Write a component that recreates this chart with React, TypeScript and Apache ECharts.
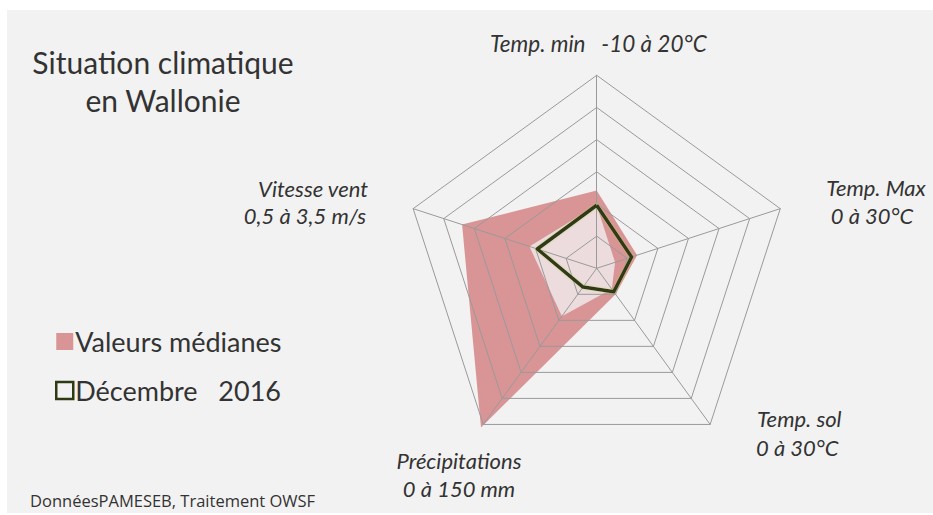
import React, { useEffect, useRef } from "react";
import * as echarts from "echarts";

// Axes (counter-clockwise from the top, as ECharts places them)
const axisNames = ["Temp. min", "Vitesse vent", "Précipitations", "Temp. sol", "Temp. Max"];
const axisMin = [-10, 0.5, 0, 0, 0];
const axisMax = [20, 3.5, 150, 30, 30];

// Labels shown around the radar
const labelTempMin = "Temp. min   -10 à 20°C";
const labelTempMax = ["Temp. Max", "0 à 30°C"];
const labelTempSol = ["Temp. sol", "0 à 30°C"];
const labelPrecip = ["Précipitations", "0 à 150 mm"];
const labelVent = ["Vitesse vent", "0,5 à 3,5 m/s"];

// Series values (order: Temp. min, Vitesse vent, Précipitations, Temp. sol, Temp. Max)
const medianOuter = [2.1, 2.7, 153, 5.0, 6.6];
const medianInner = [-0.2, 1.6, 46, 4.0, 3.0];
const december2016 = [-0.2, 1.47, 18, 4.5, 5.7];

const seriesNames = ["Valeurs médianes", "Décembre   2016"];
const titleText = "Situation climatique\nen Wallonie";
const sourceText = "DonnéesPAMESEB, Traitement OWSF";

const FONT = "Lato, 'Open Sans', sans-serif";

export default function App() {
  const ref = useRef<HTMLDivElement>(null);
  useEffect(() => {
    if (!ref.current) return;
    const chart = echarts.init(ref.current, undefined, { renderer: "svg" });
    const labelStyle = {
      fill: "#333",
      fontFamily: FONT,
      fontStyle: "italic",
      fontSize: 22,
      verticalAlign: "middle",
    };
    chart.setOption({
      animation: false,
      backgroundColor: "#ffffff",
      title: [
        {
          text: titleText,
          left: 158,
          top: 38,
          textAlign: "center",
          textStyle: { fontFamily: FONT, fontSize: 30, fontWeight: "normal", color: "#333", lineHeight: 38 },
        },
        {
          text: sourceText,
          left: 25,
          top: 487,
          textStyle: { fontFamily: "'Open Sans', sans-serif", fontSize: 16.5, fontWeight: "normal", color: "#333" },
        },
      ],
      legend: {
        orient: "vertical",
        left: 50,
        top: 323,
        itemWidth: 17,
        itemHeight: 17,
        itemGap: 22,
        textStyle: { fontFamily: FONT, fontSize: 27, color: "#333", padding: [0, 0, 0, -3] },
        data: [
          { name: seriesNames[0], icon: "rect", itemStyle: { color: "#d99496" } },
          {
            name: seriesNames[1],
            icon: "rect",
            itemStyle: { color: "rgba(0,0,0,0)", borderColor: "#2e3a12", borderWidth: 2.5 },
          },
        ],
      },
      radar: {
        center: [596.7, 268.3],
        radius: 193,
        startAngle: 90,
        splitNumber: 6,
        shape: "polygon",
        z: 3,
        indicator: axisNames.map((n, i) => ({ name: n, min: axisMin[i], max: axisMax[i] })),
        axisName: { show: false },
        axisLine: { lineStyle: { color: "#9a9a9a", width: 1 } },
        splitLine: { lineStyle: { color: "#9a9a9a", width: 1 } },
        splitArea: { show: false },
      },
      series: [
        {
          type: "radar",
          z: 2,
          symbol: "none",
          data: [
            {
              name: seriesNames[0],
              value: medianOuter,
              lineStyle: { width: 0 },
              areaStyle: { color: "#d99496", opacity: 1 },
            },
          ],
        },
        {
          type: "radar",
          z: 2,
          symbol: "none",
          data: [
            {
              name: "_inner",
              value: medianInner,
              lineStyle: { width: 0 },
              areaStyle: { color: "#ecdcdd", opacity: 1 },
            },
          ],
        },
        {
          type: "radar",
          z: 5,
          symbol: "none",
          data: [
            {
              name: seriesNames[1],
              value: december2016,
              lineStyle: {
                color: "#2e3a12",
                width: 3.5,
                shadowColor: "rgba(190,200,110,0.7)",
                shadowBlur: 2,
              },
            },
          ],
        },
      ],
      graphic: [
        { type: "rect", silent: true, z: -10, shape: { x: 7, y: 10, width: 926, height: 503 }, style: { fill: "#f2f2f2" } },
        { type: "text", x: 490, y: 43, style: { ...labelStyle, text: labelTempMin, align: "left", fontSize: 22.5 } },
        { type: "text", x: 876, y: 187, style: { ...labelStyle, text: labelTempMax[0], align: "center" } },
        { type: "text", x: 872, y: 215, style: { ...labelStyle, text: labelTempMax[1], align: "center" } },
        { type: "text", x: 757, y: 418, style: { ...labelStyle, text: labelTempSol[0], align: "left" } },
        { type: "text", x: 756, y: 447, style: { ...labelStyle, text: labelTempSol[1], align: "left" } },
        { type: "text", x: 459, y: 460, style: { ...labelStyle, text: labelPrecip[0], align: "center" } },
        { type: "text", x: 459, y: 488, style: { ...labelStyle, text: labelPrecip[1], align: "center" } },
        { type: "text", x: 368, y: 188, style: { ...labelStyle, text: labelVent[0], align: "right" } },
        { type: "text", x: 366, y: 215, style: { ...labelStyle, text: labelVent[1], align: "right" } },
      ],
    });
    return () => chart.dispose();
  }, []);
  return <div ref={ref} style={{ position: "fixed", left: 0, top: 0, width: 933, height: 515 }} />;
}
